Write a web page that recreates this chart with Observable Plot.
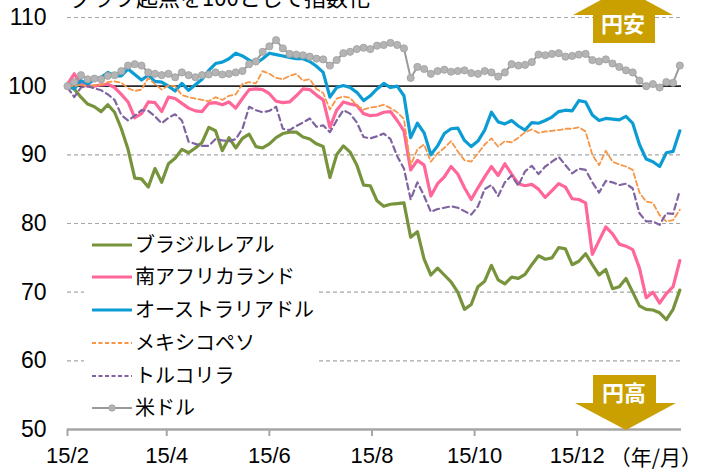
<!DOCTYPE html>
<html><head><meta charset="utf-8">
<script src="https://cdn.jsdelivr.net/npm/d3@7"></script>
<script src="https://cdn.jsdelivr.net/npm/@observablehq/plot@0.6"></script>
<style>
body{margin:0;background:#fff;overflow:hidden}
#wrap{position:relative;width:702px;height:472px;overflow:hidden;font-family:"Liberation Sans",Arial,"Noto Sans CJK JP",sans-serif;background:#fff}
#title{position:absolute;left:70px;top:-15px;font-size:22px;line-height:22px;white-space:nowrap;color:#000;font-family:"Noto Sans CJK JP",sans-serif}
#unit{position:absolute;right:0px;top:444px;font-size:21px;line-height:24px;white-space:nowrap;color:#000;font-family:"Noto Sans CJK JP",sans-serif}
#over{position:absolute;left:0;top:0}
</style></head><body><div id="wrap"></div><script>
const dates = ["2015-02-01","2015-02-05","2015-02-09","2015-02-13","2015-02-17","2015-02-21","2015-02-25","2015-03-01","2015-03-05","2015-03-09",
"2015-03-13","2015-03-17","2015-03-21","2015-03-25","2015-03-29","2015-04-02","2015-04-06","2015-04-10","2015-04-14","2015-04-18",
"2015-04-22","2015-04-26","2015-04-30","2015-05-04","2015-05-08","2015-05-12","2015-05-16","2015-05-20","2015-05-24","2015-05-28",
"2015-06-01","2015-06-05","2015-06-09","2015-06-13","2015-06-17","2015-06-21","2015-06-25","2015-06-29","2015-07-03","2015-07-07",
"2015-07-11","2015-07-15","2015-07-19","2015-07-23","2015-07-27","2015-07-31","2015-08-04","2015-08-08","2015-08-12","2015-08-16",
"2015-08-20","2015-08-24","2015-08-28","2015-09-01","2015-09-05","2015-09-09","2015-09-13","2015-09-17","2015-09-21","2015-09-25",
"2015-09-29","2015-10-03","2015-10-07","2015-10-11","2015-10-15","2015-10-19","2015-10-23","2015-10-27","2015-10-31","2015-11-04",
"2015-11-08","2015-11-12","2015-11-16","2015-11-20","2015-11-24","2015-11-28","2015-12-02","2015-12-06","2015-12-10","2015-12-14",
"2015-12-18","2015-12-22","2015-12-26","2015-12-30","2016-01-03","2016-01-07","2016-01-11","2016-01-15","2016-01-19","2016-01-23",
"2016-01-27","2016-01-31"];

const brl = [100.0,99.6,98.4,97.4,97.0,96.3,97.3,96.2,93.8,90.8,
86.6,86.5,85.3,88.0,86.0,88.7,89.5,90.8,90.3,91.0,
91.8,94.0,93.5,90.6,92.5,91.0,92.4,93.0,91.2,91.0,
91.6,92.5,93.1,93.3,93.3,92.6,92.3,91.6,91.2,86.7,
90.0,91.3,90.4,88.5,85.6,85.5,83.3,82.5,82.8,82.9,
83.0,78.0,78.8,74.8,72.5,73.5,72.5,71.5,70.0,67.5,
68.2,70.8,71.6,73.9,71.8,71.2,72.2,72.0,72.6,74.0,
75.3,74.8,75.0,76.5,76.3,74.0,74.5,75.6,74.0,72.5,
73.3,70.5,70.8,72.0,70.0,68.0,67.5,67.4,67.0,66.0,
67.5,70.3];
const zar = [100.3,101.8,100.3,100.0,100.0,100.2,100.3,99.8,98.8,97.7,
95.4,96.0,97.7,97.6,96.3,98.4,98.2,97.5,96.8,96.4,
96.3,97.5,97.6,97.3,97.7,96.8,98.2,99.5,99.6,99.5,
98.9,97.8,97.6,97.7,98.6,99.6,99.5,98.7,98.0,94.0,
96.5,97.7,97.4,97.2,96.0,95.7,95.8,96.2,96.3,95.0,
93.5,87.8,89.2,88.5,84.0,85.8,86.8,88.3,87.2,85.2,
83.5,85.2,86.8,88.3,87.0,88.7,87.2,85.8,85.5,85.7,
85.0,83.8,84.8,85.8,85.3,83.6,83.5,83.0,75.5,77.5,
79.5,78.5,77.0,76.7,76.2,73.5,69.2,70.0,68.4,69.8,
70.8,74.6];
const aud = [100.3,99.6,100.8,100.3,101.0,101.3,102.0,101.5,101.5,102.5,
101.7,100.9,101.6,100.7,100.6,100.0,99.3,100.4,99.4,100.2,
101.0,102.3,103.3,103.5,104.0,104.8,104.4,103.8,103.3,104.0,
104.8,104.6,104.4,104.2,104.0,104.0,103.6,102.9,102.0,98.4,
99.8,100.1,99.8,99.1,97.9,98.6,99.6,100.4,99.8,100.0,
98.6,92.5,94.6,93.2,90.0,91.3,93.1,93.8,93.9,92.1,
91.2,92.0,93.6,96.2,94.8,94.5,95.0,94.2,93.6,94.7,
94.6,95.0,95.5,96.3,96.5,96.4,97.9,97.7,95.8,95.0,
95.3,95.2,95.1,95.6,94.6,91.5,89.4,89.0,88.3,90.3,
90.5,93.5];
const mxn = [100.1,100.0,100.2,100.0,100.1,100.2,100.6,100.7,100.5,99.7,
99.3,99.5,101.2,100.3,99.5,100.1,100.0,98.7,98.4,98.2,
98.0,97.8,98.4,98.0,98.6,98.8,100.3,100.6,100.4,102.2,
101.8,101.2,101.0,101.5,101.8,100.8,101.0,99.6,99.0,96.6,
98.2,98.5,98.3,97.2,96.6,96.9,97.0,97.3,96.8,96.2,
95.2,88.5,90.8,91.5,89.0,90.2,91.0,92.0,90.5,89.2,
89.0,90.2,91.5,92.4,91.2,92.0,91.8,92.5,93.3,93.7,
93.2,93.4,93.5,93.6,93.8,93.8,94.0,93.4,90.0,88.5,
90.6,89.0,88.6,88.3,87.8,84.5,83.2,83.0,81.2,80.3,
80.5,82.0];
const tryl = [99.8,98.4,99.8,100.0,99.7,99.4,98.8,98.0,95.8,95.0,
95.7,96.5,96.4,95.6,94.6,95.4,95.9,95.0,91.9,91.6,
91.3,91.3,92.3,92.1,92.0,92.3,93.8,97.0,96.5,96.2,
96.4,97.0,93.8,93.6,94.2,94.7,95.3,94.1,94.3,93.3,
95.0,96.5,96.0,94.7,92.6,92.4,92.7,93.1,92.3,89.8,
88.0,83.5,86.0,84.0,81.7,82.1,82.3,82.5,82.3,81.8,
81.3,82.5,85.0,85.6,84.0,86.0,87.0,85.5,87.6,88.4,
87.2,88.3,89.0,89.7,88.5,87.3,88.0,87.8,86.0,84.5,
86.2,86.0,85.6,85.8,85.1,81.5,80.3,80.3,79.8,81.5,
81.4,84.8];
const usd = [100.0,100.6,101.6,101.0,101.1,101.0,101.5,101.6,102.2,103.0,
103.2,103.0,102.0,101.8,101.6,101.8,101.3,102.0,101.6,101.3,
101.6,101.7,102.0,101.7,101.8,102.0,102.2,103.2,103.6,105.0,
105.8,106.7,105.5,104.7,104.6,104.5,104.3,104.0,103.9,103.0,
103.8,104.8,105.0,105.4,105.6,105.4,105.9,106.0,106.3,106.0,
105.5,101.2,102.8,102.5,101.8,102.2,102.4,102.1,102.2,102.3,
101.9,101.8,102.2,102.0,101.4,102.0,103.2,103.0,103.1,103.5,
104.6,104.5,104.7,104.8,104.3,104.4,104.6,104.7,103.8,103.6,
103.9,103.3,102.8,102.3,102.0,100.8,100.0,100.3,99.8,100.6,
100.5,103.0];

const seriesNames = ["ブラジルレアル","南アフリカランド","オーストラリアドル","メキシコペソ","トルコリラ","米ドル"];
const seriesColors = ["#77933c","#ff6699","#0c9cd4","#f79646","#8064a2","#a6a6a6"];
const seriesValues = [brl, zar, aud, mxn, tryl, usd];
const yTicks = [50,60,70,80,90,100,110];
const gridValues = [60,70,80,90,110];
const baseValue = [100];
const xTickDates = ["2015-02-01","2015-04-01","2015-06-01","2015-08-01","2015-10-01","2015-12-01"];
const xTickLabels = ["15/2","15/4","15/6","15/8","15/10","15/12"];
const xDomain = ["2015-02-01","2016-02-01"];
const titleText = "グラフ起点を100として指数化";
const unitText = "（年/月）";
const upLabel = "円安", downLabel = "円高";

const data = [];
seriesValues.forEach((arr, i) => arr.forEach((v, k) => data.push({date: new Date(dates[k]), value: v, series: seriesNames[i]})));
const of = name => data.filter(d => d.series === name);
const labelMap = new Map(xTickDates.map((d, i) => [+new Date(d), xTickLabels[i]]));

const plot = Plot.plot({
  width: 702, height: 472,
  marginLeft: 67, marginRight: 21, marginTop: 17, marginBottom: 43,
  style: {fontFamily: '"Liberation Sans", Arial, sans-serif', fontSize: "23px", color: "#000", background: "transparent", overflow: "visible"},
  x: {type: "utc", domain: xDomain.map(d => new Date(d)), label: null},
  y: {domain: [50, 110], label: null},
  marks: [
    Plot.ruleY(gridValues, {stroke: "#a6a6a6", strokeWidth: 1.2, strokeDasharray: "4,3"}),
    Plot.ruleY(baseValue, {stroke: "#262626", strokeWidth: 1.6}),
    Plot.ruleY([yTicks[0]], {stroke: "#a6a6a6", strokeWidth: 2.5}),
    Plot.axisX({ticks: xTickDates.map(d => new Date(d)), label: null, tickSize: 7, tickPadding: 11, stroke: "#a6a6a6", strokeWidth: 2, fill: "#000", fontSize: 22, tickFormat: d => labelMap.get(+d)}),
    Plot.axisY({ticks: yTicks, label: null, tickSize: 0, tickPadding: 21, fill: "#000", fontSize: 23}),
    Plot.line(of(seriesNames[0]), {x: "date", y: "value", stroke: seriesColors[0], strokeWidth: 3.2}),
    Plot.line(of(seriesNames[1]), {x: "date", y: "value", stroke: seriesColors[1], strokeWidth: 3.2}),
    Plot.line(of(seriesNames[2]), {x: "date", y: "value", stroke: seriesColors[2], strokeWidth: 3.2}),
    Plot.line(of(seriesNames[3]), {x: "date", y: "value", stroke: seriesColors[3], strokeWidth: 1.8, strokeDasharray: "5,3"}),
    Plot.line(of(seriesNames[4]), {x: "date", y: "value", stroke: seriesColors[4], strokeWidth: 2.2, strokeDasharray: "6,4"}),
    Plot.line(of(seriesNames[5]), {x: "date", y: "value", stroke: "#9a9a9a", strokeWidth: 2}),
    Plot.dot(of(seriesNames[5]), {x: "date", y: "value", r: 3.6, fill: "#b4b4b4", stroke: "#a0a0a0", strokeWidth: 0.8})
  ]
});

const wrap = document.getElementById("wrap");
wrap.appendChild(plot);

const title = document.createElement("div");
title.id = "title"; title.textContent = titleText; wrap.appendChild(title);
const unit = document.createElement("div");
unit.id = "unit"; unit.textContent = unitText; wrap.appendChild(unit);

// overlay: legend and arrows
const svg = d3.create("svg").attr("id", "over").attr("width", 702).attr("height", 472)
  .style("position", "absolute").style("left", "0px").style("top", "0px");
const lg = svg.append("g");
lg.append("rect").attr("x", 84).attr("y", 229).attr("width", 234).attr("height", 194).attr("fill", "#fff");
const rowsY = [245, 277, 310, 343, 376, 408];
const dashes = [null, null, null, "4,2.5", "4,2.5", null];
const widths = [3.2, 3.2, 3.2, 1.8, 2.2, 2];
seriesNames.forEach((name, i) => {
  const y = rowsY[i];
  const ln = lg.append("line").attr("x1", 92).attr("x2", 132).attr("y1", y).attr("y2", y)
    .attr("stroke", i === 5 ? "#9a9a9a" : seriesColors[i]).attr("stroke-width", widths[i]);
  if (dashes[i]) ln.attr("stroke-dasharray", dashes[i]);
  if (i === 5) lg.append("circle").attr("cx", 112).attr("cy", y).attr("r", 3.2).attr("fill", "#b4b4b4").attr("stroke", "#a0a0a0").attr("stroke-width", 0.8);
  lg.append("text").attr("x", 135).attr("y", y).attr("dy", "0.36em").attr("font-size", 20)
    .attr("font-family", '"Noto Sans CJK JP", sans-serif').attr("fill", "#000").text(name);
});
const gold = "#c9a000";
svg.append("path").attr("d", "M573,15 L673,15 L623,-12 Z").attr("fill", gold);
svg.append("rect").attr("x", 593).attr("y", 14).attr("width", 62).attr("height", 29).attr("fill", gold);
svg.append("text").attr("x", 623).attr("y", 24).attr("dy", "0.36em").attr("text-anchor", "middle")
  .attr("font-size", 22).attr("font-weight", "bold").attr("fill", "#fff")
  .attr("font-family", '"Noto Sans CJK JP", sans-serif').text(upLabel);
svg.append("rect").attr("x", 593).attr("y", 375).attr("width", 63).attr("height", 29).attr("fill", gold);
svg.append("path").attr("d", "M575,403 L676,403 L626,430 Z").attr("fill", gold);
svg.append("text").attr("x", 624).attr("y", 393).attr("dy", "0.36em").attr("text-anchor", "middle")
  .attr("font-size", 22).attr("font-weight", "bold").attr("fill", "#fff")
  .attr("font-family", '"Noto Sans CJK JP", sans-serif').text(downLabel);
wrap.appendChild(svg.node());
</script></body></html>
